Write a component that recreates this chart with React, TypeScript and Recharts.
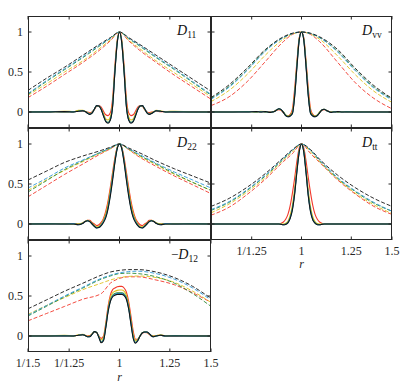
import React from "react";
import { LineChart, Line, XAxis, YAxis } from "recharts";

// sample positions along the x axis, as powers of 1.5 (r = 1.5^u)
const U_SOLID = [-1, -0.8, -0.6, -0.5, -0.45, -0.4, -0.375, -0.35, -0.325, -0.3, -0.275, -0.25, -0.225, -0.2, -0.175, -0.15, -0.125, -0.1, -0.075, -0.05, -0.025, 0, 0.025, 0.05, 0.075, 0.1, 0.125, 0.15, 0.175, 0.2, 0.225, 0.25, 0.275, 0.3, 0.325, 0.35, 0.375, 0.4, 0.45, 0.5, 0.6, 0.8, 1];
const U_DASH = [-1, -0.8, -0.6, -0.4, -0.2, -0.1, 0, 0.1, 0.2, 0.4, 0.6, 0.8, 1];

const X_TICKS = [1 / 1.5, 1 / 1.25, 1, 1.25, 1.5];
const X_TICK_LABELS = ["1/1.5", "1/1.25", "1", "1.25", "1.5"];
const Y_TICKS = [0, 0.5, 1];
const Y_TICK_LABELS = ["0", "0.5", "1"];

const RUNS = ["black", "blue", "green", "yellow", "red"];
const COLORS: Record<string, string> = {
  black: "#151515",
  blue: "#2f97d6",
  green: "#2f8a37",
  yellow: "#e0c21e",
  red: "#f2382b",
};

// D11
const D11_SOLID: Record<string, number[]> = {
  black: [0, 0, 0.005, 0, 0.01, 0.015, 0.005, -0.015, -0.03, -0.015, 0.035, 0.08, 0.075, 0.03, -0.05, -0.12, -0.14, -0.1, 0.07, 0.5, 0.86, 1, 0.86, 0.5, 0.07, -0.1, -0.14, -0.12, -0.05, 0.03, 0.075, 0.08, 0.04, -0.01, -0.03, -0.02, 0, 0.015, 0.01, 0, 0, 0, 0],
  blue: [0, 0, 0.005, 0, 0.01, 0.015, 0.005, -0.012, -0.028, -0.012, 0.035, 0.08, 0.075, 0.035, -0.045, -0.115, -0.135, -0.095, 0.08, 0.51, 0.865, 1, 0.865, 0.51, 0.08, -0.095, -0.135, -0.115, -0.045, 0.035, 0.075, 0.08, 0.04, -0.008, -0.028, -0.018, 0, 0.015, 0.01, 0, 0, 0, 0],
  green: [0, 0.005, 0, 0.005, 0.01, 0.015, 0.005, -0.01, -0.025, -0.01, 0.035, 0.078, 0.075, 0.035, -0.04, -0.11, -0.13, -0.09, 0.085, 0.515, 0.87, 1, 0.87, 0.515, 0.085, -0.09, -0.13, -0.11, -0.04, 0.035, 0.075, 0.078, 0.04, -0.008, -0.025, -0.015, 0, 0.015, 0.01, 0, 0.005, 0, 0],
  yellow: [0.005, 0, 0.01, 0.005, 0.02, 0.02, 0.01, -0.005, -0.02, -0.005, 0.035, 0.075, 0.075, 0.04, -0.02, -0.085, -0.1, -0.06, 0.12, 0.54, 0.88, 1, 0.88, 0.54, 0.12, -0.06, -0.1, -0.085, -0.02, 0.04, 0.075, 0.075, 0.035, -0.005, -0.02, -0.01, 0.005, 0.02, 0.015, 0.005, 0.01, 0, 0.005],
  red: [0.005, 0.005, 0, 0.005, 0.01, 0.01, 0.005, 0, -0.01, 0, 0.03, 0.07, 0.08, 0.06, 0.01, -0.035, -0.045, -0.01, 0.17, 0.58, 0.9, 1, 0.9, 0.58, 0.17, -0.01, -0.045, -0.035, 0.01, 0.06, 0.08, 0.07, 0.03, 0, -0.01, 0, 0.005, 0.01, 0.005, 0.005, 0, 0.005, 0.005],
};
const D11_DASH: Record<string, number[]> = {
  black: [0.27, 0.42, 0.56, 0.71, 0.86, 0.93, 1, 0.93, 0.86, 0.71, 0.56, 0.41, 0.26],
  blue: [0.23, 0.39, 0.54, 0.69, 0.85, 0.92, 1, 0.92, 0.85, 0.69, 0.54, 0.38, 0.22],
  green: [0.22, 0.38, 0.53, 0.68, 0.84, 0.92, 1, 0.92, 0.84, 0.68, 0.53, 0.37, 0.21],
  yellow: [0.21, 0.35, 0.5, 0.64, 0.81, 0.9, 1, 0.9, 0.81, 0.64, 0.49, 0.34, 0.19],
  red: [0.18, 0.32, 0.47, 0.62, 0.79, 0.89, 1, 0.89, 0.79, 0.62, 0.46, 0.31, 0.16],
};

// Dvv
const DVV_SOLID: Record<string, number[]> = {
  black: [0, 0, 0, 0.005, 0, 0.005, 0, -0.005, 0, 0.005, 0.025, 0.04, 0.03, -0.005, -0.045, -0.06, -0.05, -0.02, 0.2, 0.57, 0.9, 1, 0.9, 0.57, 0.2, -0.02, -0.05, -0.06, -0.045, -0.01, 0.025, 0.035, 0.02, 0.005, -0.005, 0, 0, 0.005, 0, 0, 0, 0, 0],
  blue: [0, 0, 0, 0.005, 0, 0.005, 0, -0.005, 0, 0.005, 0.025, 0.04, 0.03, -0.005, -0.045, -0.06, -0.05, -0.015, 0.21, 0.58, 0.905, 1, 0.905, 0.58, 0.21, -0.015, -0.05, -0.06, -0.045, -0.01, 0.025, 0.035, 0.02, 0.005, -0.005, 0, 0, 0.005, 0, 0, 0, 0, 0],
  green: [0, 0, 0.005, 0, 0.005, 0, 0, -0.005, 0, 0.005, 0.025, 0.04, 0.03, 0, -0.04, -0.055, -0.045, -0.01, 0.22, 0.59, 0.91, 1, 0.91, 0.59, 0.22, -0.01, -0.045, -0.055, -0.04, -0.005, 0.025, 0.035, 0.02, 0.005, -0.005, 0, 0.005, 0, 0, 0.005, 0, 0, 0],
  yellow: [0.005, 0, 0.005, 0, 0.01, 0.005, 0, -0.005, 0, 0.01, 0.025, 0.035, 0.025, 0, -0.035, -0.05, -0.04, 0.01, 0.25, 0.61, 0.92, 1, 0.92, 0.61, 0.25, 0.01, -0.04, -0.05, -0.035, 0, 0.025, 0.035, 0.02, 0.005, 0, 0.005, 0.005, 0, 0.005, 0, 0.005, 0, 0],
  red: [0.005, 0, 0.005, 0.005, 0, 0.005, 0.005, 0, 0, 0.01, 0.02, 0.03, 0.02, -0.01, -0.04, -0.05, -0.03, 0.04, 0.3, 0.64, 0.93, 1, 0.93, 0.64, 0.3, 0.04, -0.03, -0.05, -0.04, -0.01, 0.02, 0.03, 0.02, 0.01, 0, 0, 0.005, 0.005, 0, 0.005, 0, 0.005, 0],
};
const DVV_DASH: Record<string, number[]> = {
  black: [0.18, 0.34, 0.55, 0.78, 0.94, 0.985, 1, 0.985, 0.94, 0.78, 0.54, 0.33, 0.17],
  blue: [0.16, 0.31, 0.52, 0.76, 0.93, 0.98, 1, 0.98, 0.93, 0.75, 0.51, 0.3, 0.15],
  green: [0.17, 0.32, 0.53, 0.77, 0.93, 0.98, 1, 0.98, 0.93, 0.76, 0.52, 0.31, 0.16],
  yellow: [0.13, 0.27, 0.47, 0.71, 0.91, 0.975, 1, 0.975, 0.91, 0.7, 0.46, 0.26, 0.12],
  red: [0.08, 0.19, 0.38, 0.63, 0.88, 0.97, 1, 0.97, 0.88, 0.62, 0.36, 0.17, 0.04],
};

// D22
const D22_SOLID: Record<string, number[]> = {
  black: [0, 0, 0, 0, -0.01, 0.01, 0.03, 0.04, 0.03, 0, -0.03, -0.05, -0.045, -0.02, 0.02, 0.08, 0.19, 0.35, 0.55, 0.77, 0.94, 1, 0.94, 0.77, 0.55, 0.35, 0.19, 0.08, 0.02, -0.02, -0.045, -0.05, -0.03, 0, 0.03, 0.04, 0.03, 0.01, -0.01, 0, 0, 0, 0],
  blue: [0, 0, 0, 0.005, -0.01, 0.01, 0.03, 0.04, 0.03, 0, -0.028, -0.048, -0.043, -0.015, 0.03, 0.09, 0.2, 0.37, 0.57, 0.78, 0.945, 1, 0.945, 0.78, 0.57, 0.37, 0.2, 0.09, 0.03, -0.015, -0.043, -0.048, -0.028, 0, 0.03, 0.04, 0.03, 0.01, -0.01, 0.005, 0, 0, 0],
  green: [0, 0.005, 0, 0, -0.005, 0.01, 0.03, 0.04, 0.03, 0.005, -0.025, -0.045, -0.04, -0.01, 0.035, 0.1, 0.215, 0.385, 0.585, 0.79, 0.95, 1, 0.95, 0.79, 0.585, 0.385, 0.215, 0.1, 0.035, -0.01, -0.04, -0.045, -0.025, 0.005, 0.03, 0.04, 0.03, 0.01, -0.005, 0, 0, 0.005, 0],
  yellow: [0.005, 0, 0.005, 0.005, 0, 0.015, 0.035, 0.045, 0.035, 0.01, -0.015, -0.035, -0.03, 0, 0.05, 0.13, 0.25, 0.42, 0.61, 0.8, 0.955, 1, 0.955, 0.8, 0.61, 0.42, 0.25, 0.13, 0.05, 0, -0.03, -0.035, -0.015, 0.01, 0.035, 0.045, 0.035, 0.015, 0, 0.005, 0.005, 0, 0.005],
  red: [0.005, 0.005, 0, 0.005, 0, 0.01, 0.03, 0.045, 0.045, 0.02, 0, -0.02, -0.01, 0.02, 0.07, 0.16, 0.29, 0.46, 0.65, 0.83, 0.96, 1, 0.96, 0.83, 0.65, 0.46, 0.29, 0.16, 0.07, 0.02, -0.01, -0.02, 0, 0.02, 0.045, 0.045, 0.03, 0.01, 0, 0.005, 0, 0.005, 0.005],
};
const D22_DASH: Record<string, number[]> = {
  black: [0.55, 0.66, 0.77, 0.85, 0.92, 0.96, 1, 0.95, 0.9, 0.79, 0.69, 0.6, 0.51],
  blue: [0.45, 0.57, 0.7, 0.8, 0.9, 0.95, 1, 0.94, 0.88, 0.76, 0.65, 0.55, 0.45],
  green: [0.4, 0.54, 0.68, 0.79, 0.9, 0.95, 1, 0.94, 0.87, 0.75, 0.63, 0.52, 0.42],
  yellow: [0.42, 0.55, 0.67, 0.78, 0.89, 0.94, 1, 0.93, 0.86, 0.74, 0.62, 0.52, 0.42],
  red: [0.34, 0.48, 0.62, 0.75, 0.88, 0.94, 1, 0.93, 0.85, 0.72, 0.6, 0.49, 0.38],
};

// Dtt
const DTT_SOLID: Record<string, number[]> = {
  black: [0, 0, 0, 0, 0, 0, 0, 0, 0, 0, 0, 0, -0.005, -0.01, -0.005, 0.015, 0.07, 0.18, 0.38, 0.66, 0.9, 1, 0.9, 0.64, 0.35, 0.15, 0.05, 0.01, -0.01, -0.01, -0.005, 0, 0, 0, 0, 0, 0, 0, 0, 0, 0, 0, 0],
  blue: [0, 0, 0, 0, 0, 0, 0, 0, 0, 0, 0, 0, -0.005, -0.01, -0.004, 0.018, 0.075, 0.19, 0.39, 0.67, 0.905, 1, 0.905, 0.65, 0.36, 0.16, 0.055, 0.012, -0.008, -0.01, -0.005, 0, 0, 0, 0, 0, 0, 0, 0, 0, 0, 0, 0],
  green: [0, 0, 0, 0, 0, 0, 0, 0, 0, 0, 0, 0, -0.004, -0.008, 0, 0.022, 0.08, 0.2, 0.4, 0.68, 0.91, 1, 0.91, 0.66, 0.37, 0.17, 0.06, 0.015, -0.005, -0.008, -0.004, 0, 0, 0, 0, 0, 0, 0, 0, 0, 0, 0, 0],
  yellow: [0, 0, 0, 0, 0, 0, 0, 0, 0, 0, 0, 0, 0, 0, 0.01, 0.035, 0.11, 0.24, 0.45, 0.71, 0.92, 1, 0.92, 0.69, 0.42, 0.21, 0.09, 0.03, 0.005, 0, 0, 0, 0, 0, 0, 0, 0, 0, 0, 0, 0, 0, 0],
  red: [0, 0, 0, 0, 0, 0, 0, 0, 0, 0, 0, 0, 0.01, 0.025, 0.06, 0.12, 0.23, 0.39, 0.58, 0.79, 0.95, 1, 0.95, 0.79, 0.58, 0.39, 0.23, 0.12, 0.06, 0.025, 0.01, 0, 0, 0, 0, 0, 0, 0, 0, 0, 0, 0, 0],
};
const DTT_DASH: Record<string, number[]> = {
  black: [0.22, 0.32, 0.46, 0.63, 0.83, 0.93, 1, 0.93, 0.81, 0.61, 0.45, 0.32, 0.22],
  blue: [0.18, 0.28, 0.43, 0.61, 0.82, 0.92, 1, 0.92, 0.8, 0.58, 0.41, 0.27, 0.16],
  green: [0.17, 0.27, 0.42, 0.6, 0.81, 0.92, 1, 0.92, 0.79, 0.57, 0.4, 0.26, 0.16],
  yellow: [0.14, 0.25, 0.4, 0.58, 0.8, 0.9, 1, 0.9, 0.78, 0.56, 0.38, 0.24, 0.13],
  red: [0.11, 0.21, 0.37, 0.56, 0.78, 0.88, 1, 0.88, 0.77, 0.55, 0.37, 0.22, 0.12],
};

// -D12
const D12_SOLID: Record<string, number[]> = {
  black: [0, 0, 0, 0, 0.01, 0.015, 0.005, -0.01, -0.01, 0.02, 0.055, 0.045, -0.02, -0.085, -0.06, 0.1, 0.3, 0.43, 0.49, 0.51, 0.52, 0.52, 0.52, 0.505, 0.46, 0.34, 0.15, -0.03, -0.09, -0.06, 0, 0.04, 0.05, 0.05, 0.03, 0, -0.01, 0, 0.01, 0, 0, 0, 0],
  blue: [0, 0, 0, 0, 0.01, 0.015, 0.005, -0.01, -0.008, 0.02, 0.055, 0.045, -0.015, -0.08, -0.05, 0.11, 0.31, 0.44, 0.5, 0.52, 0.53, 0.53, 0.53, 0.515, 0.47, 0.35, 0.16, -0.02, -0.085, -0.055, 0, 0.04, 0.05, 0.048, 0.03, 0, -0.01, 0, 0.01, 0, 0, 0, 0],
  green: [0, 0, 0.005, 0, 0.01, 0.015, 0.005, -0.008, -0.005, 0.022, 0.055, 0.045, -0.012, -0.075, -0.045, 0.12, 0.32, 0.45, 0.51, 0.53, 0.54, 0.54, 0.54, 0.525, 0.48, 0.36, 0.17, -0.01, -0.08, -0.05, 0, 0.04, 0.05, 0.048, 0.028, 0, -0.008, 0, 0.01, 0, 0.005, 0, 0],
  yellow: [0.005, 0, 0.01, 0, 0.015, 0.02, 0.01, -0.005, 0, 0.025, 0.055, 0.045, -0.005, -0.05, -0.02, 0.14, 0.34, 0.48, 0.54, 0.56, 0.57, 0.575, 0.575, 0.56, 0.51, 0.39, 0.2, 0.02, -0.06, -0.04, 0.005, 0.04, 0.05, 0.045, 0.025, 0.005, 0, 0.005, 0.015, 0.005, 0.005, 0.005, 0],
  red: [0.005, 0.005, 0.005, 0, 0.01, 0.015, 0.01, 0, 0.005, 0.025, 0.05, 0.04, 0, -0.03, 0, 0.16, 0.37, 0.51, 0.58, 0.6, 0.615, 0.62, 0.62, 0.6, 0.55, 0.43, 0.25, 0.06, -0.04, -0.04, 0, 0.035, 0.045, 0.04, 0.02, 0, 0, 0.005, 0.01, 0.005, 0, 0.005, 0],
};
const D12_DASH: Record<string, number[]> = {
  black: [0.34, 0.45, 0.56, 0.66, 0.76, 0.8, 0.82, 0.83, 0.83, 0.8, 0.73, 0.62, 0.47],
  blue: [0.26, 0.38, 0.5, 0.61, 0.72, 0.76, 0.79, 0.805, 0.81, 0.78, 0.71, 0.6, 0.45],
  green: [0.25, 0.37, 0.49, 0.6, 0.71, 0.75, 0.78, 0.785, 0.78, 0.74, 0.66, 0.53, 0.37],
  yellow: [0.27, 0.38, 0.48, 0.58, 0.66, 0.7, 0.73, 0.745, 0.75, 0.73, 0.67, 0.56, 0.42],
  red: [0.19, 0.28, 0.37, 0.46, 0.53, 0.66, 0.72, 0.74, 0.74, 0.7, 0.64, 0.54, 0.42],
};

const AX = "#262626";
const FONT = "'Liberation Serif', 'DejaVu Serif', serif";
const H = 112;

const toPts = (us: number[], vs: number[]) =>
  us.map((u, i) => ({ r: Math.pow(1.5, u), v: vs[i] }));

type PanelDef = {
  id: string;
  x: number;
  y: number;
  w: number;
  solid: Record<string, number[]>;
  dashed: Record<string, number[]>;
  yLabels: boolean;
  xLabels: boolean;
  skipX: number[];
};

const PANELS: PanelDef[] = [
  { id: "d11", x: 28, y: 16, w: 183, solid: D11_SOLID, dashed: D11_DASH, yLabels: true, xLabels: false, skipX: [] },
  { id: "d22", x: 28, y: 128, w: 183, solid: D22_SOLID, dashed: D22_DASH, yLabels: true, xLabels: false, skipX: [] },
  { id: "d12", x: 28, y: 240, w: 183, solid: D12_SOLID, dashed: D12_DASH, yLabels: true, xLabels: true, skipX: [] },
  { id: "dvv", x: 211, y: 16, w: 181, solid: DVV_SOLID, dashed: DVV_DASH, yLabels: false, xLabels: false, skipX: [] },
  { id: "dtt", x: 211, y: 128, w: 181, solid: DTT_SOLID, dashed: DTT_DASH, yLabels: false, xLabels: true, skipX: [0] },
];

const PL = 30, PR = 14, PT = 4, PB = 30;

function Panel({ p }: { p: PanelDef }) {
  const order = [...RUNS].reverse();
  const xTick = (t: any) => {
    const i = X_TICKS.indexOf(t.payload.value);
    return (
      <g>
        <line x1={t.x} x2={t.x} y1={t.y} y2={t.y - 3.5} stroke={AX} />
        <line x1={t.x} x2={t.x} y1={t.y - H} y2={t.y - H + 3.5} stroke={AX} />
        {p.xLabels && !p.skipX.includes(i) && (
          <text x={t.x} y={t.y + 14.5} textAnchor="middle" fontSize={12} fontFamily={FONT} fill={AX}>
            {X_TICK_LABELS[i]}
          </text>
        )}
      </g>
    );
  };
  const yTick = (t: any) => {
    const i = Y_TICKS.indexOf(t.payload.value);
    return (
      <g>
        <line x1={t.x} x2={t.x + 3.5} y1={t.y} y2={t.y} stroke={AX} />
        <line x1={t.x + p.w} x2={t.x + p.w - 3.5} y1={t.y} y2={t.y} stroke={AX} />
        {p.yLabels && (
          <text x={t.x - 5} y={t.y + 4} textAnchor="end" fontSize={12} fontFamily={FONT} fill={AX}>
            {Y_TICK_LABELS[i]}
          </text>
        )}
      </g>
    );
  };
  return (
    <div style={{ position: "absolute", left: p.x - PL, top: p.y - PT }}>
      <LineChart width={p.w + PL + PR} height={H + PT + PB} margin={{ top: PT, right: PR, bottom: 0, left: 0 }} style={{ overflow: "visible" }}>
        <XAxis
          dataKey="r"
          type="number"
          scale="log"
          domain={[X_TICKS[0], X_TICKS[4]]}
          allowDataOverflow
          ticks={X_TICKS}
          interval={0}
          height={PB}
          axisLine={false}
          tickLine={false}
          tickSize={0}
          tickMargin={0}
          tick={xTick}
        />
        <YAxis
          type="number"
          domain={[-0.2, 1.2]}
          allowDataOverflow
          ticks={Y_TICKS}
          interval={0}
          width={PL}
          axisLine={false}
          tickLine={false}
          tickSize={0}
          tickMargin={0}
          tick={yTick}
        />
        {order.map((k) => (
          <Line
            key={"d" + k}
            data={toPts(U_DASH, p.dashed[k])}
            dataKey="v"
            type="monotone"
            stroke={COLORS[k]}
            strokeWidth={0.9}
            strokeDasharray="4 2"
            dot={false}
            isAnimationActive={false}
          />
        ))}
        {order.map((k) => (
          <Line
            key={"s" + k}
            data={toPts(U_SOLID, p.solid[k])}
            dataKey="v"
            type="monotone"
            stroke={COLORS[k]}
            strokeWidth={1.1}
            dot={false}
            isAnimationActive={false}
          />
        ))}
      </LineChart>
    </div>
  );
}

function Title({ x, y, sub, minus }: { x: number; y: number; sub: string; minus?: boolean }) {
  return (
    <text x={x} y={y} fontFamily={FONT} fill="#111">
      {minus && <tspan fontSize={13}>{"\u2212"}</tspan>}
      <tspan fontSize={14} fontStyle="italic">D</tspan>
      <tspan fontSize={9.5} dy={3}>{sub}</tspan>
    </text>
  );
}

export default function App() {
  return (
    <div style={{ position: "absolute", left: 0, top: 0, width: 407, height: 391, background: "#fff" }}>
      {PANELS.map((p) => (
        <Panel key={p.id} p={p} />
      ))}
      <svg width={407} height={391} style={{ position: "absolute", left: 0, top: 0, pointerEvents: "none" }}>
        {PANELS.map((p) => (
          <rect key={p.id} x={p.x + 0.5} y={p.y + 0.5} width={p.w - 1} height={H - 1} fill="none" stroke={AX} strokeWidth={1} />
        ))}
        <Title x={177} y={35} sub="11" />
        <Title x={177} y={147} sub="22" />
        <Title x={171} y={259} sub="12" minus />
        <Title x={362} y={35} sub="vv" />
        <Title x={362} y={147} sub="tt" />
        <text x={119.5} y={381} textAnchor="middle" fontSize={12} fontStyle="italic" fontFamily={FONT} fill={AX}>r</text>
        <text x={301.5} y={268} textAnchor="middle" fontSize={12} fontStyle="italic" fontFamily={FONT} fill={AX}>r</text>
      </svg>
    </div>
  );
}
